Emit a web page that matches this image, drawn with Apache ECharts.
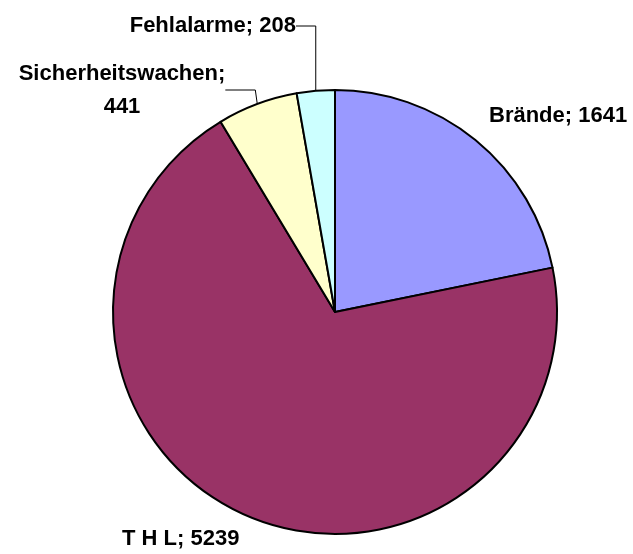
<!DOCTYPE html>
<html>
<head>
<meta charset="utf-8">
<script src="https://cdn.jsdelivr.net/npm/echarts@6/dist/echarts.min.js"></script>
<style>
  html, body { margin: 0; padding: 0; background: #fff; }
  #main { width: 633px; height: 554px; }
</style>
</head>
<body>
<div id="main"></div>
<script>
// Einsatzarten (im Uhrzeigersinn ab 12 Uhr)
var categories = ['Brände', 'T H L', 'Sicherheitswachen', 'Fehlalarme'];
var values = [1641, 5239, 441, 208];
var colors = ['#9999FF', '#993366', '#FFFFCC', '#CCFFFF'];

// Label-Positionen (wie im Original)
var labelPos = [
    {x: 489, y: 116, align: 'left'},
    {x: 122, y: 539, align: 'left'},
    {x: 122, y: 90, align: 'center'},
    {x: 296, y: 26, align: 'right'}
];

var myChart = echarts.init(document.getElementById('main'));

var data = [];
for (var i = 0; i < categories.length; i++) {
    var item = {
        name: categories[i],
        value: values[i],
        itemStyle: {color: colors[i]}
    };
    if (categories[i] === 'Sicherheitswachen') {
        item.label = {formatter: '{b};\n{c}'};
    }
    if (categories[i] === 'Brände' || categories[i] === 'T H L') {
        item.labelLine = {show: false};
    }
    data.push(item);
}

var option = {
    backgroundColor: '#fff',
    animation: false,
    series: [{
        type: 'pie',
        center: [335, 312],
        radius: 222,
        startAngle: 90,
        clockwise: true,
        data: data,
        itemStyle: {
            borderColor: '#000',
            borderWidth: 2
        },
        label: {
            show: true,
            formatter: '{b}; {c}',
            color: '#000',
            fontFamily: 'Liberation Sans, Arial, sans-serif',
            fontWeight: 'bold',
            fontSize: 22,
            lineHeight: 33,
            overflow: 'none'
        },
        labelLine: {
            show: true,
            lineStyle: {color: '#000', width: 1}
        },
        labelLayout: function (params) {
            var p = labelPos[params.dataIndex];
            return {
                x: p.x,
                y: p.y,
                align: p.align,
                verticalAlign: 'middle'
            };
        },
        emphasis: {disabled: true}
    }]
};

myChart.setOption(option);
</script>
</body>
</html>
